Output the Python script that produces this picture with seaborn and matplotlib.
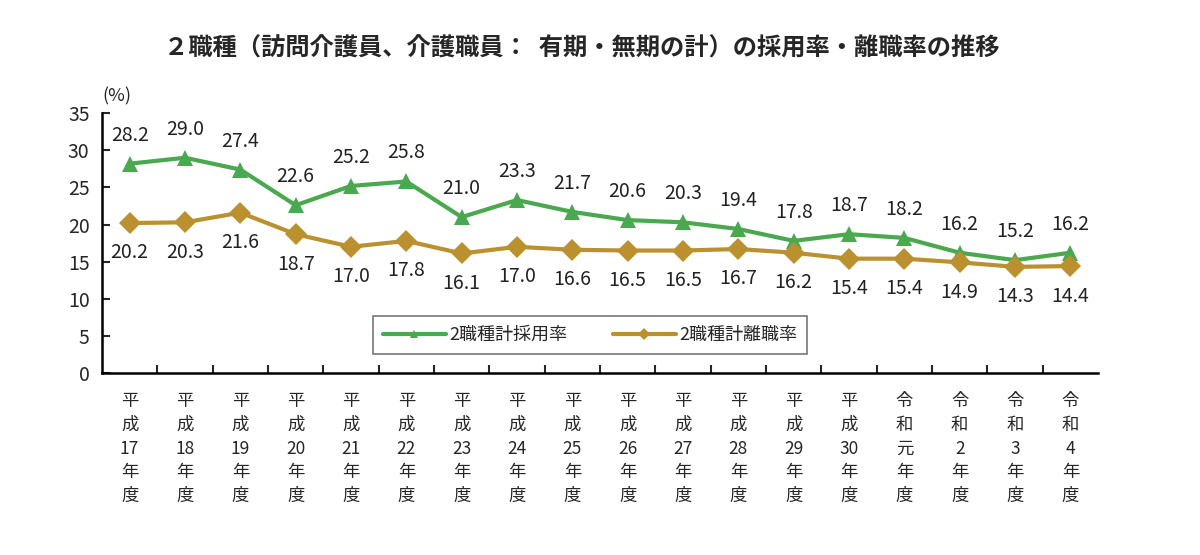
import numpy as np
import pandas as pd
import matplotlib
matplotlib.use("Agg")
import matplotlib.pyplot as plt
import seaborn as sns

sns.set_theme(style="white")
plt.rcParams['font.family'] = ['Noto Sans CJK JP', 'DejaVu Sans']

# Data
years = ["平\n成\n17\n年\n度", "平\n成\n18\n年\n度", "平\n成\n19\n年\n度", "平\n成\n20\n年\n度",
         "平\n成\n21\n年\n度", "平\n成\n22\n年\n度", "平\n成\n23\n年\n度", "平\n成\n24\n年\n度",
         "平\n成\n25\n年\n度", "平\n成\n26\n年\n度", "平\n成\n27\n年\n度", "平\n成\n28\n年\n度",
         "平\n成\n29\n年\n度", "平\n成\n30\n年\n度", "令\n和\n元\n年\n度", "令\n和\n2\n年\n度",
         "令\n和\n3\n年\n度", "令\n和\n4\n年\n度"]
hire_rate = [28.2, 29.0, 27.4, 22.6, 25.2, 25.8, 21.0, 23.3, 21.7, 20.6, 20.3, 19.4, 17.8, 18.7, 18.2, 16.2, 15.2, 16.2]
leave_rate = [20.2, 20.3, 21.6, 18.7, 17.0, 17.8, 16.1, 17.0, 16.6, 16.5, 16.5, 16.7, 16.2, 15.4, 15.4, 14.9, 14.3, 14.4]

green = "#4aa84f"
gold = "#bb9130"

df = pd.DataFrame({
    'pos': list(range(len(years))) * 2,
    'rate': hire_rate + leave_rate,
    'series': ['2職種計採用率'] * len(years) + ['2職種計離職率'] * len(years),
})

fig = plt.figure(figsize=(12, 5.55), dpi=100)
ax = fig.add_axes([0.085, 0.328, 0.83, 0.468])

sns.lineplot(data=df, x='pos', y='rate', hue='series', style='series',
             markers={'2職種計採用率': '^', '2職種計離職率': 'D'},
             dashes=False, palette={'2職種計採用率': green, '2職種計離職率': gold},
             markersize=11, markeredgewidth=0, linewidth=3, ax=ax)

# value labels
for i, v in enumerate(hire_rate):
    ax.annotate(f"{v:.1f}", (i, v), xytext=(0, 13), textcoords='offset points',
                ha='center', va='bottom', fontsize=14, color='#222222')
for i, v in enumerate(leave_rate):
    ax.annotate(f"{v:.1f}", (i, v), xytext=(0, -14), textcoords='offset points',
                ha='center', va='top', fontsize=14, color='#222222')

ax.set_xlim(-0.5, len(years) - 0.5)
ax.set_ylim(0, 35)
ax.set_yticks(range(0, 36, 5))
ax.set_xticks(range(len(years)))
ax.set_xticklabels(years, fontsize=12.5, linespacing=1.4)
ax.set_xticks(np.arange(0.5, len(years) - 0.5, 1), minor=True)
ax.tick_params(axis='x', which='major', length=0, pad=14)
ax.tick_params(axis='x', which='minor', direction='in', length=6, width=1.5, bottom=True)
ax.tick_params(axis='y', which='major', direction='in', length=6, width=1.5, left=True,
               labelsize=14, pad=9)
ax.set_xlabel("")
ax.set_ylabel("")

for side in ['top', 'right']:
    ax.spines[side].set_visible(False)
for side in ['left', 'bottom']:
    ax.spines[side].set_color('black')
    ax.spines[side].set_linewidth(1.8)

ax.text(0.0, 1.065, "(%)", transform=ax.transAxes, fontsize=13, ha='left', va='center')

leg = ax.legend(loc='center', bbox_to_anchor=(0.49, 0.146), ncol=2, fontsize=13,
                frameon=True, fancybox=False, handlelength=3.5, columnspacing=2.5,
                borderpad=0.55, handletextpad=0.2)
leg.get_frame().set_edgecolor('#555555')
leg.get_frame().set_linewidth(1.2)
for h in leg.legend_handles:
    h.set_markersize(6)
    h.set_linewidth(3)

fig.suptitle("２職種（訪問介護員、介護職員：  有期・無期の計）の採用率・離職率の推移",
             x=0.485, y=0.935, fontsize=17.5, fontweight='bold')

fig.savefig("out.png", dpi=100)
